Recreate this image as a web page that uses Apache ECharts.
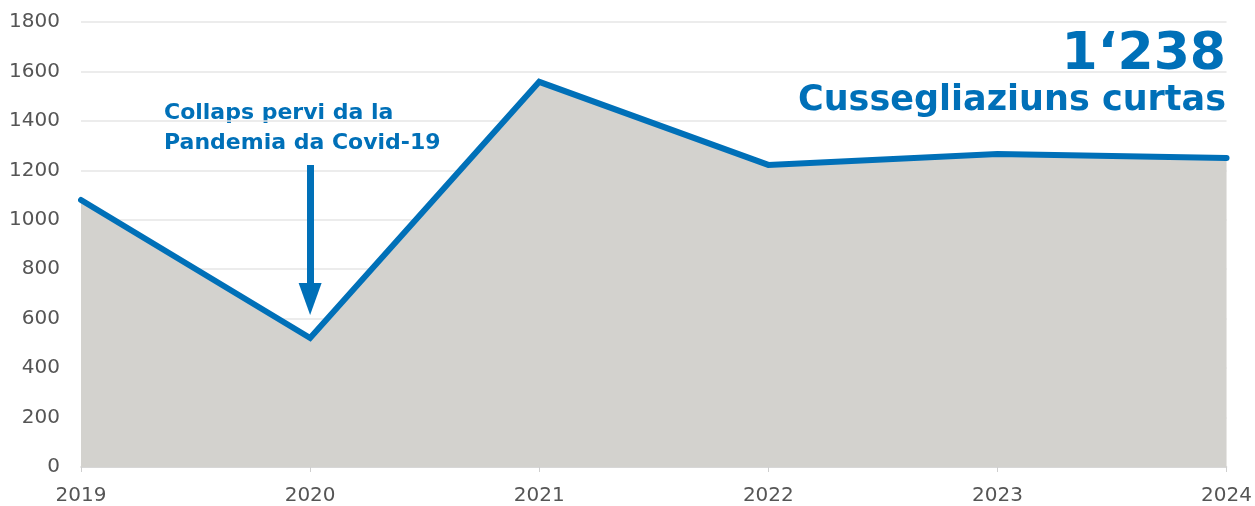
<!DOCTYPE html>
<html><head><meta charset="utf-8">
<script src="https://cdn.jsdelivr.net/npm/echarts@6/dist/echarts.min.js"></script>
<style>html,body{margin:0;padding:0;background:#fff}#c{width:1255px;height:506px}</style>
</head><body><div id="c"></div>
<script>
const years = ['2019','2020','2021','2022','2023','2024'];
const consultations = [1080, 522, 1558, 1222, 1266, 1250];
const yTicks = {min: 0, max: 1800, step: 200};
const headlineValue = '1‘238';
const headlineLabel = 'Cussegliaziuns curtas';
const noteLines = ['Collaps pervi da la', 'Pandemia da Covid-19'];
const arrowFrom = ['2020', 1222];
const arrowTo = ['2020', 680];

const blue = '#0070b8';
const boldFont = 'DejaVu Sans, Liberation Sans, Arial, sans-serif';
const chart = echarts.init(document.getElementById('c'));
chart.setOption({
  animation: false,
  textStyle: {fontFamily: 'DejaVu Sans, Liberation Sans, Arial, sans-serif'},
  grid: {left: 81, right: 27, top: 22, bottom: 39},
  xAxis: {
    type: 'category', data: years, boundaryGap: false,
    axisLine: {lineStyle: {color: '#cfcfcf', width: 1.5}},
    axisTick: {show: true, length: 5, lineStyle: {color: '#cfcfcf'}},
    axisLabel: {color: '#555', fontSize: 20, margin: 19}
  },
  yAxis: {
    type: 'value', min: yTicks.min, max: yTicks.max, interval: yTicks.step,
    axisLine: {show: false}, axisTick: {show: false},
    axisLabel: {color: '#555', fontSize: 20, margin: 21, formatter: v => String(v)},
    splitLine: {lineStyle: {color: '#e6e6e6', width: 1.5}}
  },
  series: [{
    type: 'line', data: consultations, symbol: 'none',
    lineStyle: {color: blue, width: 6, cap: 'round', join: 'miter'},
    areaStyle: {color: '#d3d2ce', opacity: 1},
    markLine: {
      silent: true, animation: false,
      symbol: ['none', 'triangle'], symbolSize: [23, 32],
      lineStyle: {color: blue, width: 7, type: 'solid'},
      label: {show: false},
      data: [[{coord: arrowFrom}, {coord: arrowTo}]]
    }
  }],
  graphic: [
    {type: 'text', right: 29, top: 29, style: {text: headlineValue, fill: blue, fontFamily: boldFont, fontWeight: 'bold', fontSize: 52, textAlign: 'right'}},
    {type: 'text', right: 29, top: 83, style: {text: headlineLabel, fill: blue, fontFamily: boldFont, fontWeight: 'bold', fontSize: 35, textAlign: 'right'}},
    {type: 'text', left: 164, top: 98, style: {text: noteLines.join('\n'), fill: blue, fontFamily: boldFont, fontWeight: 'bold', fontSize: 22, lineHeight: 30}}
  ]
});
</script></body></html>
